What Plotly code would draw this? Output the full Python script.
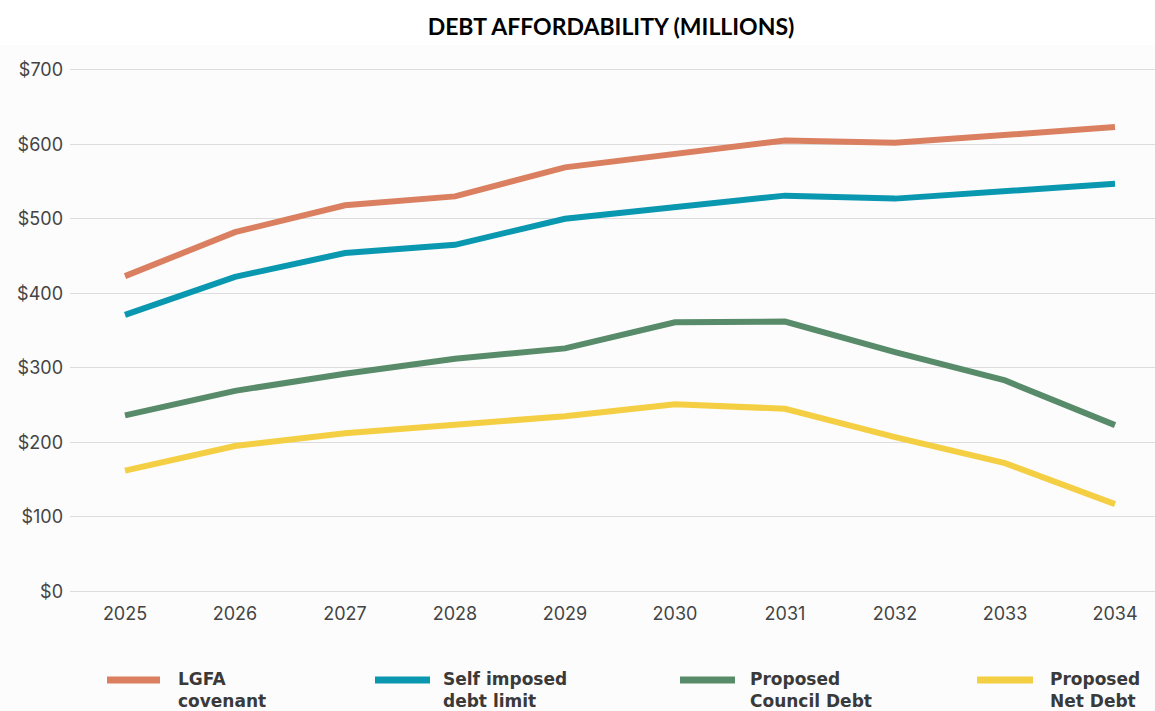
import plotly.graph_objects as go

# ---- data ----
years = ["2025", "2026", "2027", "2028", "2029", "2030", "2031", "2032", "2033", "2034"]
lgfa_covenant = [423, 482, 518, 530, 569, 588, 605, 602, 612, 623]
self_imposed_limit = [371, 422, 454, 465, 500, 516, 531, 527, 538, 547]
proposed_council_debt = [236, 269, 292, 312, 326, 361, 362, 321, 283, 223]
proposed_net_debt = [162, 195, 212, 224, 235, 251, 245, 207, 172, 117]
series_names = ["LGFA<br>covenant", "Self imposed<br>debt limit",
                "Proposed<br>Council Debt", "Proposed<br>Net Debt"]
y_ticks = [0, 100, 200, 300, 400, 500, 600, 700]
y_tick_labels = ["$" + str(v) for v in y_ticks]

# ---- style ----
colors = ["#DA7F5F", "#0A97B0", "#588B69", "#F4CF43"]
W, H = 1155, 711
ML, MR, MT, MB = 70, 0, 66, 116
# legend layout in pixels: (swatch x0, swatch x1, text x)
legend_px = [(107, 160, 178), (375, 430, 443), (680, 735, 750), (977, 1033, 1050)]
legend_y_px = 680

fig = go.Figure()
all_series = [lgfa_covenant, self_imposed_limit, proposed_council_debt, proposed_net_debt]
for name, vals, col in zip(series_names, all_series, colors):
    fig.add_trace(go.Scatter(x=years, y=vals, mode="lines", name=name.replace("<br>", " "),
                             line=dict(color=col, width=6), showlegend=False))

pw = W - ML - MR
ph = H - MT - MB
def px_x(p):
    return (p - ML) / pw
def px_y(p):
    return (H - MB - p) / ph

shapes = []
annotations = []
for (x0, x1, tx), name, col in zip(legend_px, series_names, colors):
    shapes.append(dict(type="line", xref="paper", yref="paper",
                       x0=px_x(x0), x1=px_x(x1), y0=px_y(legend_y_px), y1=px_y(legend_y_px),
                       line=dict(color=col, width=7)))
    annotations.append(dict(xref="paper", yref="paper", x=px_x(tx - 1), y=px_y(legend_y_px - 12),
                            xanchor="left", yanchor="top", align="left", showarrow=False,
                            text=name,
                            font=dict(family="DejaVu Sans", size=17, color="#3a3a3a",
                                      weight="bold"),
                            borderpad=0))

fig.update_layout(
    width=W, height=H,
    margin=dict(l=ML, r=MR, t=MT, b=MB),
    paper_bgcolor="#FCFCFC",
    plot_bgcolor="#FCFCFC",
    title=dict(text="<b>DEBT AFFORDABILITY (MILLIONS)</b>", x=611 / W, xanchor="center",
               xref="container", y=1 - 27 / H, yanchor="middle", yref="container",
               font=dict(family="Lato", size=23, color="#000000")),
    xaxis=dict(type="category", range=[-0.5, -0.5 + pw / 110.0], showgrid=False,
               showline=False, zeroline=False, ticks="",
               tickfont=dict(family="Inter", size=18, color="#444444"),
               ticklabelstandoff=6),
    yaxis=dict(range=[-5, 705], tickmode="array", tickvals=y_ticks, ticktext=y_tick_labels,
               showgrid=True, gridcolor="#DCDCDC", gridwidth=1, zeroline=False,
               showline=False, ticks="",
               tickfont=dict(family="Inter", size=18, color="#444444"),
               ticklabelstandoff=6),
    shapes=shapes,
    annotations=annotations,
)
fig.add_shape(type="rect", xref="paper", yref="paper", x0=-1, x1=2,
              y0=px_y(45), y1=px_y(0), fillcolor="#FFFFFF", line=dict(width=0), layer="below")

fig.write_html("out.html")
